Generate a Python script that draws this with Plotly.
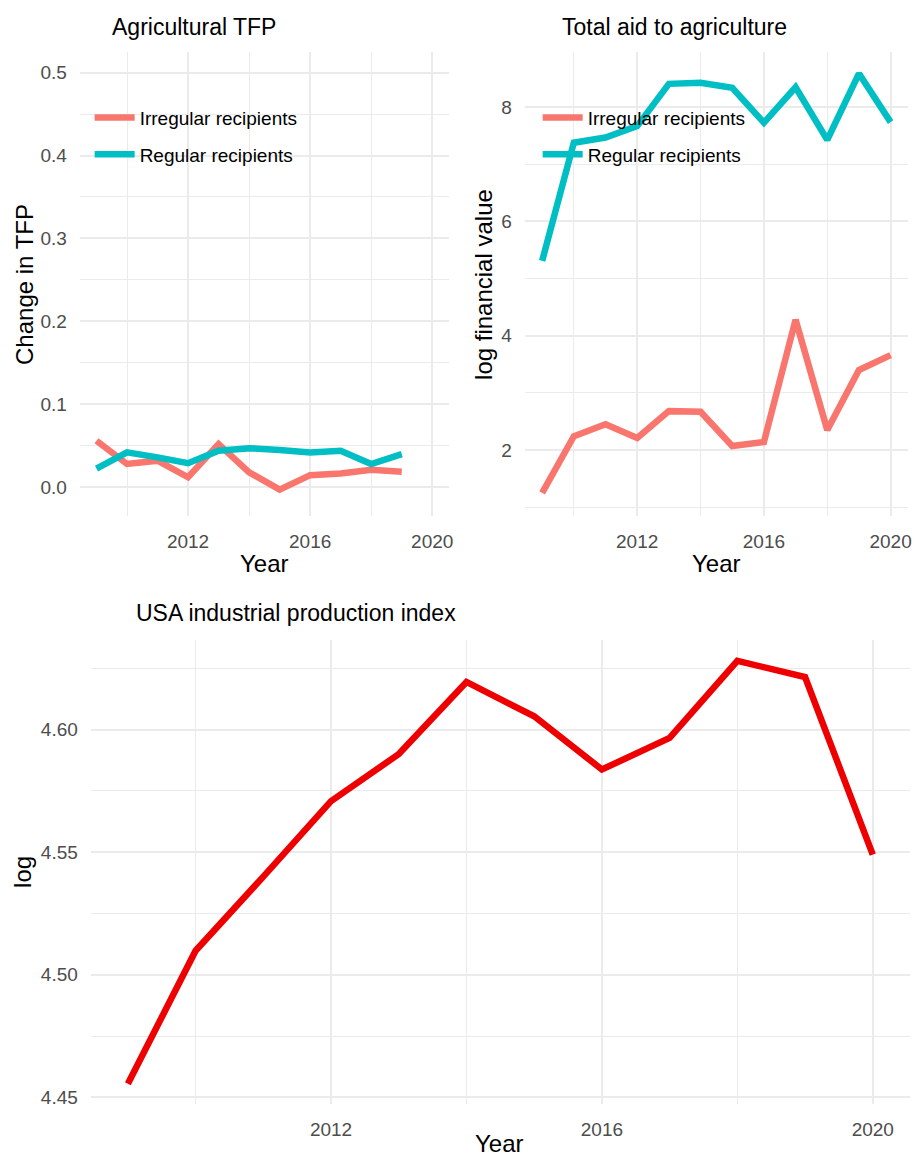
import plotly.graph_objects as go

# ---------------- data ----------------
years = list(range(2009, 2021))
tfp_years = list(range(2009, 2020))
tfp_irregular = [0.056, 0.028, 0.032, 0.012, 0.052, 0.018, -0.003, 0.0145, 0.0165, 0.021, 0.0185]
tfp_regular = [0.0225, 0.042, 0.036, 0.029, 0.044, 0.047, 0.045, 0.042, 0.044, 0.028, 0.040]
aid_irregular = [1.25, 2.24, 2.45, 2.21, 2.68, 2.67, 2.07, 2.14, 4.28, 2.35, 3.40, 3.66]
aid_regular = [5.31, 7.38, 7.47, 7.67, 8.41, 8.43, 8.34, 7.73, 8.35, 7.43, 8.59, 7.74]
ipi_log = [4.4555, 4.5098, 4.540, 4.5708, 4.590, 4.6194, 4.6054, 4.5837, 4.5966, 4.6280, 4.6214, 4.549]
series_names = ["Irregular recipients", "Regular recipients"]

# ---------------- style ----------------
OFF = 8                      # page body margin of the browser
W, H = 921 - OFF, 1161 - OFF
FONT = "Liberation Sans, Arial, sans-serif"
RED = "#F8766D"
TEAL = "#00BFC4"
GRID = "#EBEBEB"
TICKC = "#4D4D4D"
LW = 6.5

def px(x):
    return (x - OFF) / W

def py(y):
    return 1 - (y - OFF) / H

fig = go.Figure()

# Top-left panel
fig.add_trace(go.Scatter(x=tfp_years, y=tfp_irregular, mode="lines", name=series_names[0],
                         line=dict(color=RED, width=LW), xaxis="x", yaxis="y",
                         legend="legend", legendgroup="a1"))
fig.add_trace(go.Scatter(x=tfp_years, y=tfp_regular, mode="lines", name=series_names[1],
                         line=dict(color=TEAL, width=LW), xaxis="x", yaxis="y",
                         legend="legend", legendgroup="a2"))
# Top-right panel
fig.add_trace(go.Scatter(x=years, y=aid_irregular, mode="lines", name=series_names[0],
                         line=dict(color=RED, width=LW), xaxis="x2", yaxis="y2",
                         legend="legend2", legendgroup="b1"))
fig.add_trace(go.Scatter(x=years, y=aid_regular, mode="lines", name=series_names[1],
                         line=dict(color=TEAL, width=LW), xaxis="x2", yaxis="y2",
                         legend="legend2", legendgroup="b2"))
# Bottom panel
fig.add_trace(go.Scatter(x=years, y=ipi_log, mode="lines", name="IPI",
                         line=dict(color="#EE0000", width=LW), xaxis="x3", yaxis="y3",
                         showlegend=False))

xr = [2008.45, 2020.55]

def xax(domain, anchor):
    return dict(domain=domain, anchor=anchor, range=xr, tick0=2000, dtick=4,
                showgrid=True, gridcolor=GRID, gridwidth=1.6, zeroline=False,
                showline=False, ticks="outside", ticklen=8, tickcolor="rgba(0,0,0,0)",
                tickfont=dict(family=FONT, size=19, color=TICKC),
                minor=dict(dtick=2, tick0=2000, showgrid=True, gridcolor=GRID, gridwidth=1.0))

def yax(domain, anchor, rng, dtick, mdtick, fmt):
    return dict(domain=domain, anchor=anchor, range=rng, tick0=0, dtick=dtick,
                tickformat=fmt, showgrid=True, gridcolor=GRID, gridwidth=1.6,
                zeroline=False, showline=False, ticks="outside", ticklen=8,
                tickcolor="rgba(0,0,0,0)",
                tickfont=dict(family=FONT, size=19, color=TICKC),
                minor=dict(dtick=mdtick, tick0=0, showgrid=True, gridcolor=GRID, gridwidth=1.0))

top_dom = [py(518), py(52)]
bot_dom = [py(1108), py(642)]

leg_common = dict(xanchor="left", yanchor="top", bgcolor="rgba(0,0,0,0)",
                  font=dict(family=FONT, size=19, color="black"),
                  tracegroupgap=9, itemwidth=40)

fig.update_layout(
    width=W, height=H,
    margin=dict(l=0, r=0, t=0, b=0),
    paper_bgcolor="white", plot_bgcolor="white",
    font=dict(family=FONT, color="black"),
    xaxis=xax([px(80), px(451)], "y"),
    yaxis=yax(top_dom, "x", [-0.035, 0.525], 0.1, 0.05, ".1f"),
    xaxis2=xax([px(527), px(912)], "y2"),
    yaxis2=yax(top_dom, "x2", [0.84, 8.97], 2, 1, "d"),
    xaxis3=xax([px(91), px(914)], "y3"),
    yaxis3=yax(bot_dom, "x3", [4.4472, 4.6366], 0.05, 0.025, ".2f"),
    legend=dict(x=px(90), y=py(99), **leg_common),
    legend2=dict(x=px(540), y=py(99), **leg_common),
)

ann = [
    dict(text="Agricultural TFP", x=px(110), y=py(27), xanchor="left", yanchor="middle", size=23, angle=0),
    dict(text="Total aid to agriculture", x=px(562), y=py(27), xanchor="left", yanchor="middle", size=23, angle=0),
    dict(text="USA industrial production index", x=px(135), y=py(615), xanchor="left", yanchor="middle", size=23, angle=0),
    dict(text="Year", x=px(265.5), y=py(565), xanchor="center", yanchor="middle", size=24, angle=0),
    dict(text="Year", x=px(719.5), y=py(565), xanchor="center", yanchor="middle", size=24, angle=0),
    dict(text="Year", x=px(502), y=py(1147), xanchor="center", yanchor="middle", size=24, angle=0),
    dict(text="Change in TFP", x=px(24), y=py(285), xanchor="center", yanchor="middle", size=24, angle=-90),
    dict(text="log financial value", x=px(485), y=py(285), xanchor="center", yanchor="middle", size=24, angle=-90),
    dict(text="log", x=px(23), y=py(875), xanchor="center", yanchor="middle", size=24, angle=-90),
]
for a in ann:
    fig.add_annotation(text=a["text"], x=a["x"], y=a["y"], xref="paper", yref="paper",
                       xanchor=a["xanchor"], yanchor=a["yanchor"], showarrow=False,
                       textangle=a["angle"], font=dict(family=FONT, size=a["size"], color="black"))

fig.write_html("out.html")
